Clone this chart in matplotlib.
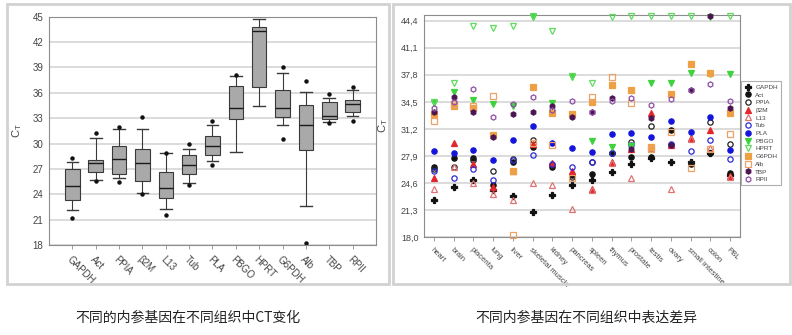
import matplotlib
matplotlib.use("Agg")
import matplotlib.pyplot as plt
import numpy as np
from matplotlib.patches import Rectangle
from matplotlib.ticker import FuncFormatter

plt.rcParams['font.family'] = ['Liberation Sans', 'Noto Sans CJK SC', 'DejaVu Sans']

# --- left panel: Ct distribution per reference gene (box summary) ---
genes = ['GAPDH', 'Act', 'PPIA', 'β2M', 'L13', 'Tub', 'PLA', 'PBGO', 'HPRT',
         'G6PDH', 'Alb', 'TBP', 'RPII']
whislo = [22.1, 25.7, 25.9, 24.2, 22.2, 25.3, 27.95, 29.0, 34.4, 32.2, 22.6, 32.6, 33.2]
q1 = [23.3, 26.6, 26.45, 25.6, 23.6, 26.35, 28.6, 32.9, 36.7, 33.1, 29.2, 32.9, 33.7]
med = [25.0, 27.7, 28.2, 27.75, 24.7, 27.5, 29.7, 34.2, 43.3, 34.2, 32.2, 33.3, 34.7]
q3 = [27.0, 28.1, 29.7, 29.4, 26.6, 28.7, 30.85, 36.8, 43.75, 36.3, 34.5, 34.9, 35.2]
whishi = [27.8, 30.6, 31.7, 31.7, 28.85, 29.4, 32.2, 38.0, 44.7, 38.35, 36.1, 35.35, 36.3]
fliers = [[28.3, 21.2], [31.2, 25.6], [32.0, 25.4], [33.1, 24.0], [28.9, 21.5],
          [29.95, 25.05], [32.65, 27.45], [38.05], [], [39.1, 30.5], [37.4, 18.2],
          [35.9, 32.45], [36.7, 32.7]]

# --- right panel: Ct per tissue for each gene ---
tissues = ['heart', 'brain', 'placenta', 'lung', 'liver', 'skeletal muscle', 'kidney',
           'pancreas', 'spleen', 'thymus', 'prostate', 'testis', 'ovary',
           'small intestine', 'colon', 'PBL']
gapdh = [22.5, 24.1, 25.0, 23.7, 23.0, 21.1, 23.1, 24.4, 25.0, 25.9, 26.9, 27.6, 27.1, 27.2, 28.3, 25.6]
act = [26.6, 27.7, 27.6, 24.3, 27.2, 29.0, 26.5, 25.6, 25.7, 28.2, 27.8, 27.8, 31.1, 26.9, 28.2, 25.8]
ppia = [26.3, 26.5, 27.4, 26.0, 27.5, 29.8, 26.8, 25.3, 27.1, 28.3, 29.6, 31.5, 29.2, 27.0, 32.0, 29.4]
b2m = [25.2, 29.5, 26.9, 24.1, 26.1, 29.3, 27.0, 26.0, 23.9, 27.1, 28.8, 33.1, 29.2, 30.1, 31.05, 25.5]
l13 = [23.9, 26.6, 24.6, 23.2, 22.5, 24.6, 24.3, 21.4, 23.7, 27.0, 25.2, 28.9, 23.9, 30.0, 28.9, 25.3]
tub = [26.1, 25.2, 26.3, 25.0, 27.4, 28.0, 26.9, 26.6, 27.2, 28.2, 29.2, 29.0, 29.3, 28.5, 29.9, 27.5]
pla = [28.5, 28.2, 28.6, 27.4, 29.8, 31.6, 29.5, 28.9, 28.4, 30.6, 30.7, 30.2, 32.1, 30.8, 32.6, 28.6]
pbgo = [34.3, 35.7, 34.7, 34.2, 34.0, 44.8, 34.3, 37.5, 29.7, 29.0, 29.1, 36.8, 36.8, 38.05, 37.9, 37.9]
hprt = [34.5, 36.8, 43.7, 43.5, 43.8, 45.0, 43.2, 37.6, 36.8, 44.8, 44.95, 44.95, 44.95, 44.95, 44.9, 44.95]
g6pdh = [33.0, 34.0, 33.7, 30.4, 26.0, 36.3, 33.1, 33.0, 34.5, 36.6, 35.9, 29.0, 35.5, 39.1, 38.0, 33.1]
alb = [32.2, 34.2, 34.0, 35.2, 18.2, 29.5, 29.2, 25.2, 35.1, 37.5, 34.4, 28.8, 30.8, 26.4, 28.8, 30.6]
tbp = [33.3, 35.05, 33.2, 30.2, 33.0, 33.2, 34.0, 32.7, 33.3, 35.0, 28.7, 32.5, 29.2, 35.9, 44.95, 33.8]
rpii = [33.7, 34.5, 36.1, 32.7, 34.2, 35.1, 33.5, 34.6, 33.3, 34.6, 35.0, 34.1, 34.8, 36.0, 36.7, 34.6]

right_ticks = [18.0, 21.3, 24.6, 27.9, 31.2, 34.5, 37.8, 41.1, 44.4]

captions = ['不同的内参基因在不同组织中CT变化', '不同内参基因在不同组织中表达差异']

grid_c = '#d6d6d6'
spine_c = '#8c8c8c'
text_c = '#444444'

fig = plt.figure(figsize=(7.92, 3.35), dpi=100)
W, H = 792, 335

# panel frames
for x0, x1 in [(7, 389), (393, 790)]:
    fig.patches.append(Rectangle((x0 / W, 1 - 284 / H), (x1 - x0) / W, 280 / H,
                                 transform=fig.transFigure, fill=False,
                                 edgecolor='#d2d2d2', lw=2.0))

def style_axes(ax):
    for s in ax.spines.values():
        s.set_color(spine_c)
        s.set_linewidth(0.8)
    ax.yaxis.grid(True, color=grid_c, lw=1.2)
    ax.set_axisbelow(True)
    ax.tick_params(axis='y', length=0, pad=4, colors=text_c)
    ax.tick_params(axis='x', length=3, width=0.6, color=spine_c, colors=text_c)

# ---- left: box plots ----
ax1 = fig.add_axes([49 / W, 1 - 245 / H, 327 / W, 228.3 / H])
stats = []
for i, g in enumerate(genes):
    stats.append(dict(label=g, whislo=whislo[i], q1=q1[i], med=med[i],
                      q3=q3[i], whishi=whishi[i], fliers=fliers[i]))
pos = np.arange(1, len(genes) + 1)
ax1.bxp(stats, positions=pos, widths=0.62, capwidths=0.5, patch_artist=True,
        boxprops=dict(facecolor='#a9a9a9', edgecolor='#3a3a3a', lw=0.8),
        medianprops=dict(color='#1a1a1a', lw=1.0),
        whiskerprops=dict(color='#3a3a3a', lw=0.8),
        capprops=dict(color='#3a3a3a', lw=1.0),
        flierprops=dict(marker='o', markersize=2.2, markerfacecolor='#111111',
                        markeredgecolor='#111111'))
ax1.set_xlim(0, len(genes) + 1)
ax1.set_ylim(18, 45)
ax1.set_yticks(np.arange(18, 46, 3))
style_axes(ax1)
ax1.tick_params(axis='y', labelsize=7)
ax1.set_xticks(pos)
ax1.set_xticklabels(genes, rotation=-45, ha='left', va='top',
                    rotation_mode='anchor', fontsize=7)
ax1.set_ylabel(r'$\mathregular{C_T}$', fontsize=8, color=text_c, labelpad=6)

# ---- right: Ct per tissue ----
ax2 = fig.add_axes([424 / W, 1 - 237 / H, 316 / W, 222 / H])
xt = np.arange(len(tissues))
series = [
    ('GAPDH', gapdh, 'P', '#111111', True),
    ('Act', act, 'o', '#111111', True),
    ('PPIA', ppia, 'o', '#222222', False),
    ('β2M', b2m, '^', '#e2262b', True),
    ('L13', l13, '^', '#e07272', False),
    ('Tub', tub, 'o', '#2b2bd8', False),
    ('PLA', pla, 'o', '#1414dc', True),
    ('PBGO', pbgo, 'v', '#3fd23f', True),
    ('HPRT', hprt, 'v', '#5fdc5f', False),
    ('G6PDH', g6pdh, 's', '#f0a044', True),
    ('Alb', alb, 's', '#eaa266', False),
    ('TBP', tbp, 'h', '#4b1452', True),
    ('RPII', rpii, 'h', '#8e4ea6', False),
]
for name, vals, mk, col, filled in series:
    ax2.plot(xt, vals, linestyle='none', marker=mk, markersize=3.8,
             markerfacecolor=col if filled else 'none', markeredgecolor=col,
             markeredgewidth=0.9, label=name, clip_on=False, zorder=3)
ax2.set_xlim(-0.5, len(tissues) - 0.5)
ax2.set_ylim(18, 45.1)
ax2.set_yticks(right_ticks)
ax2.yaxis.set_major_formatter(FuncFormatter(lambda v, p: f'{v:.1f}'.replace('.', ',')))
style_axes(ax2)
ax2.tick_params(axis='y', labelsize=6.5)
ax2.set_xticks(xt)
ax2.set_xticklabels(tissues, rotation=-45, ha='left', va='top',
                    rotation_mode='anchor', fontsize=5.5)
ax2.set_ylabel(r'$\mathregular{C_T}$', fontsize=8, color=text_c, labelpad=8)

leg = ax2.legend(loc='upper left', bbox_to_anchor=(1.0, 0.705), fontsize=4.6,
                 frameon=True, fancybox=False, borderpad=0.5, labelspacing=0.35,
                 handlelength=1.2, handletextpad=0.6, borderaxespad=0.1)
leg.get_frame().set_edgecolor('#9a9a9a')
leg.get_frame().set_linewidth(0.8)
for t in leg.get_texts():
    t.set_color(text_c)

# captions
for cx, cap in zip([188, 586], captions):
    fig.text(cx / W, 1 - 318 / H, cap, ha='center', va='center', fontsize=10,
             color='#222222', family=['Noto Sans CJK SC', 'DejaVu Sans'])

fig.savefig('out.png', dpi=100, facecolor='white')
